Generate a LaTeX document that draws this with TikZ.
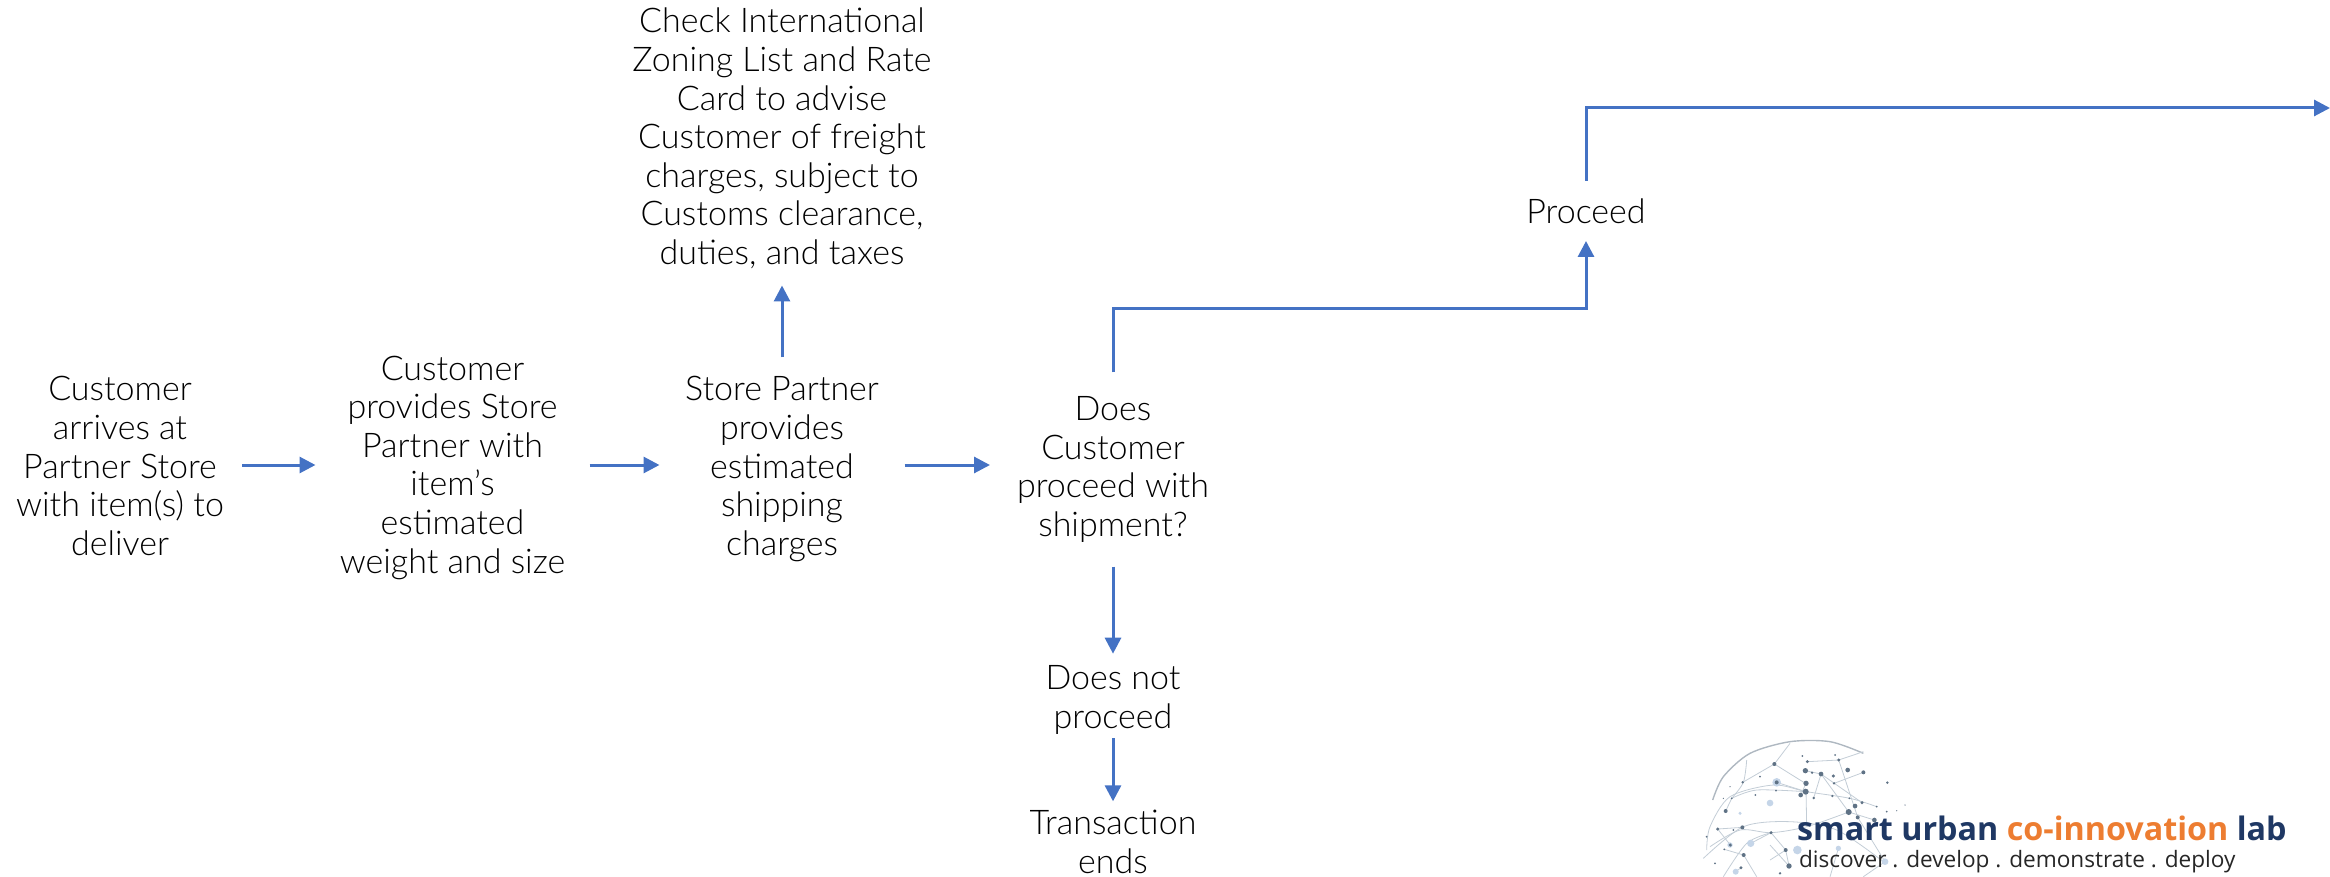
\documentclass[tikz,border=0pt]{standalone}
\usepackage{fontspec}
\setmainfont{Lato Light}
\newfontfamily\logofont{Open Sans}
\usetikzlibrary{arrows.meta}
\definecolor{flow}{HTML}{4472C4}
\definecolor{navy}{HTML}{1F3864}
\definecolor{orng}{HTML}{ED7D31}
\definecolor{gl}{HTML}{C3CDD6}
\definecolor{gd}{HTML}{5F7285}
\definecolor{gp}{HTML}{C5D5E8}
\tikzset{
 lbl/.style={align=center,inner sep=0pt,outer sep=0pt,font=\fontsize{17}{19.3}\selectfont},
 flowline/.style={draw=flow,line width=1.5pt,-{Triangle[length=8pt,width=8pt]}},
 gline/.style={draw=gl,line width=.4pt},
 garc/.style={draw=gl!90!black,line width=.7pt},
 logotext/.style={inner sep=0pt,outer sep=0pt,anchor=base west}
}
\begin{document}
\begin{tikzpicture}[x=.5pt,y=-.5pt]
\useasboundingbox (0,0) rectangle (2330,877);
% globe of the logo
\begin{scope}[shift={(1690,730)},x=.1667pt,y=-.1667pt]
 \draw[garc] plot[smooth] coordinates {(68,210) (100,140) (180,70) (300,35) (420,35) (520,70)};
 \draw[gline] plot[smooth] coordinates {(50,360) (60,290) (120,200) (250,165) (350,185) (480,205) (560,230)};
 \draw[gline] plot[smooth] coordinates {(125,205) (200,180) (347,185)};
 \draw[gline] plot[smooth] coordinates {(40,385) (160,290) (300,275) (440,300) (580,395)};
 \draw[gline] plot[smooth] coordinates {(100,440) (170,340) (243,308)};
 \draw[gline] plot[smooth] coordinates {(60,350) (150,300) (243,308) (350,290) (476,246)};
 \draw[gline] plot[smooth] coordinates {(170,90) (160,157) (125,205)};
 \foreach \ax/\ay/\bx/\by in {253/102/158/157, 253/102/346/160, 253/102/300/40, 352/95/446/90, 446/90/520/65,
   393/132/371/204, 393/132/346/122, 393/132/476/246, 432/160/520/127, 260/157/348/185, 107/243/125/205,
   83/297/157/292, 243/308/287/360, 348/185/350/290, 446/90/503/262, 287/360/297/408, 297/408/240/345,
   161/375/200/440, 121/345/83/297, 243/308/182/340, 503/262/585/395, 476/246/553/270, 348/160/332/195,
   393/132/516/218, 287/360/240/390, 161/375/103/358, 445/355/420/440, 585/395/520/440, 153/413/137/425}
   \draw[gline] (\ax,\ay) -- (\bx,\by);
 \foreach \px/\py/\pr in {260/157/13, 240/219/10, 182/340/11, 322/360/13, 445/355/8, 585/395/10, 137/425/9, 150/250/5, 120/345/8}
   \fill[gp] (\px,\py) circle[radius=\pr*.1667pt];
 \foreach \px/\py/\pr in {253/102/6, 352/95/5, 446/90/5, 346/122/8, 393/132/7, 366/128/4, 430/138/5, 432/160/4,
   473/120/7, 520/127/6, 592/158/4, 348/160/8, 347/185/9, 332/195/7, 371/204/4, 427/198/4, 260/157/6, 158/157/4,
   125/205/3, 107/243/6, 83/297/5, 157/292/6, 121/345/5, 103/358/3, 161/375/6, 243/308/5, 287/360/6, 297/408/8,
   153/413/5, 476/246/9, 495/228/7, 516/218/5, 503/262/6, 553/270/7, 560/230/3, 478/205/3, 337/78/3, 435/75/3,
   210/140/3, 120/170/2, 196/195/3, 75/400/3, 130/300/3, 258/182/3, 590/245/3, 620/242/2, 645/225/2, 478/310/4,
   270/430/4, 50/320/3, 100/205/2}
   \fill[gd] (\px,\py) circle[radius=\pr*.1667pt];
\end{scope}
\node[logotext] (logoa) at (1797,840) {\logofont\bfseries\fontsize{16.15}{20}\selectfont\textcolor{navy}{smart urban}\ \textcolor{orng}{co-innovation}\ \textcolor{navy}{lab}};
\node[logotext] (logob) at (1799,867) {\logofont\fontsize{11.3}{14}\selectfont\textcolor{black!85}{discover . develop . demonstrate . deploy}};
% flow
\coordinate (axis) at (0,465);
\coordinate (elbow) at (1350,309);
\coordinate (exit) at (2330,108);
\node[lbl,minimum width=122pt] (n1) at (120,466) {Customer\\arrives at\\Partner Store\\with item(s) to\\deliver};
\node[lbl,minimum width=137pt] (n2) at (452.5,467.5) {Customer\\provides Store\\Partner with\\item’s\\estimated\\weight and size};
\node[lbl,minimum width=122.5pt,minimum height=111.5pt] (n3) at (782,469) {Store Partner\\provides\\estimated\\shipping\\charges};
\node[lbl,minimum height=147pt] (n7) at (782,138.5) {Check International\\Zoning List and Rate\\Card to advise\\Customer of freight\\charges, subject to\\Customs clearance,\\duties, and taxes};
\node[lbl,minimum width=123pt,minimum height=97pt] (n4) at (1113,469.5) {Does\\Customer\\proceed with\\shipment?};
\node[lbl] (n5) at (1113,700) {Does not\\proceed};
\node[lbl] (n6) at (1113,842) {Transaction\\ends};
\node[lbl,minimum height=30pt] (n8) at (1586,211) {Proceed};
\path[flowline] (n1.east |- axis) -- (n2.west |- axis);
\path[flowline] (n2.east |- axis) -- (n3.west |- axis);
\path[flowline] (n3.north) -- (n7.south);
\path[flowline] (n3.east |- axis) -- (n4.west |- axis);
\path[flowline] (n4.north) |- (elbow) -| (n8.south);
\path[flowline] (n8.north) |- (exit);
\path[flowline,shorten >=6pt] (n4.south) -- (n5.north);
\path[flowline,shorten <=2pt,shorten >=4.5pt] (n5.south) -- (n6.north);
\end{tikzpicture}
\end{document}
